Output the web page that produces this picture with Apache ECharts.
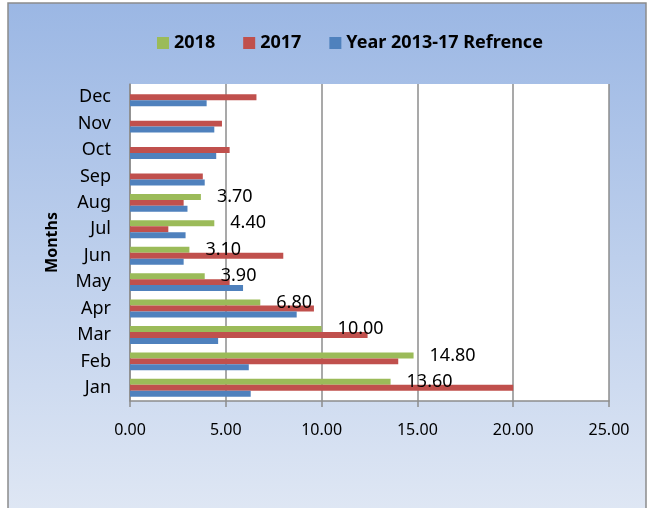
<!DOCTYPE html>
<html>
<head>
<meta charset="utf-8">
<script src="https://cdn.jsdelivr.net/npm/echarts@6/dist/echarts.min.js"></script>
<style>
  html, body { margin: 0; padding: 0; background: #fff; }
  #chart { width: 654px; height: 508px; }
</style>
</head>
<body>
<div id="chart"></div>
<script>
// data
const months = ['Jan', 'Feb', 'Mar', 'Apr', 'May', 'Jun', 'Jul', 'Aug', 'Sep', 'Oct', 'Nov', 'Dec'];
const refValues = [6.3, 6.2, 4.6, 8.7, 5.9, 2.8, 2.9, 3.0, 3.9, 4.5, 4.4, 4.0];
const values2017 = [20.0, 14.0, 12.4, 9.6, 5.2, 8.0, 2.0, 2.8, 3.8, 5.2, 4.8, 6.6];
const values2018 = [13.6, 14.8, 10.0, 6.8, 3.9, 3.1, 4.4, 3.7, null, null, null, null];
const xTicks = [0, 5, 10, 15, 20, 25];

const font = '"Noto Sans", sans-serif';
const chart = echarts.init(document.getElementById('chart'));

const barSeries = (name, data, color) => ({
    name,
    type: 'bar',
    data,
    barGap: '0%',
    barCategoryGap: '32%',
    itemStyle: { color },
    z: 3
});

const green = barSeries('2018', values2018, '#9BBB59');
green.label = {
    show: true,
    position: 'right',
    distance: 16,
    color: '#000',
    fontSize: 18,
    fontFamily: font,
    formatter: p => p.value.toFixed(2)
};

const option = {
    backgroundColor: '#fff',
    animation: false,
    graphic: [{
        type: 'rect',
        z: -10,
        shape: { x: 8, y: 3, width: 638, height: 510 },
        style: {
            fill: new echarts.graphic.LinearGradient(0, 0, 0, 1, [
                { offset: 0, color: '#9BB7E4' },
                { offset: 1, color: '#DFE7F4' }
            ]),
            stroke: '#8C8C8C',
            lineWidth: 1.5
        }
    }],
    legend: {
        top: 29,
        left: 152,
        data: ['2018', '2017', 'Year 2013-17 Refrence'],
        icon: 'rect',
        itemWidth: 12,
        itemHeight: 12,
        itemGap: 28,
        textStyle: { fontSize: 18, fontWeight: 'bold', fontFamily: font, color: '#000' }
    },
    grid: {
        left: 130, right: 45, top: 84, bottom: 107,
        show: true,
        backgroundColor: '#fff',
        borderWidth: 0
    },
    xAxis: {
        type: 'value',
        min: xTicks[0],
        max: xTicks[xTicks.length - 1],
        interval: 5,
        axisLine: { show: true, lineStyle: { color: '#8C8C8C', width: 1.5 } },
        axisTick: { show: true, length: 6, lineStyle: { color: '#8C8C8C', width: 1.5 } },
        splitLine: { show: true, lineStyle: { color: '#8C8C8C', width: 1.5 } },
        axisLabel: {
            margin: 21,
            fontSize: 16,
            fontFamily: font,
            color: '#000',
            formatter: v => v.toFixed(2)
        }
    },
    yAxis: {
        type: 'category',
        data: months,
        name: 'Months',
        nameLocation: 'middle',
        nameGap: 70,
        nameTextStyle: { fontSize: 16, fontWeight: 'bold', fontFamily: font, color: '#000' },
        axisLine: { show: true, lineStyle: { color: '#8C8C8C', width: 1.5 } },
        axisTick: { show: false },
        axisLabel: { margin: 19, fontSize: 18, fontFamily: font, color: '#000' }
    },
    // in a horizontal group the first series sits on top
    series: [
        green,
        barSeries('2017', values2017, '#C0504D'),
        barSeries('Year 2013-17 Refrence', refValues, '#4F81BD')
    ]
};

chart.setOption(option);
</script>
</body>
</html>
